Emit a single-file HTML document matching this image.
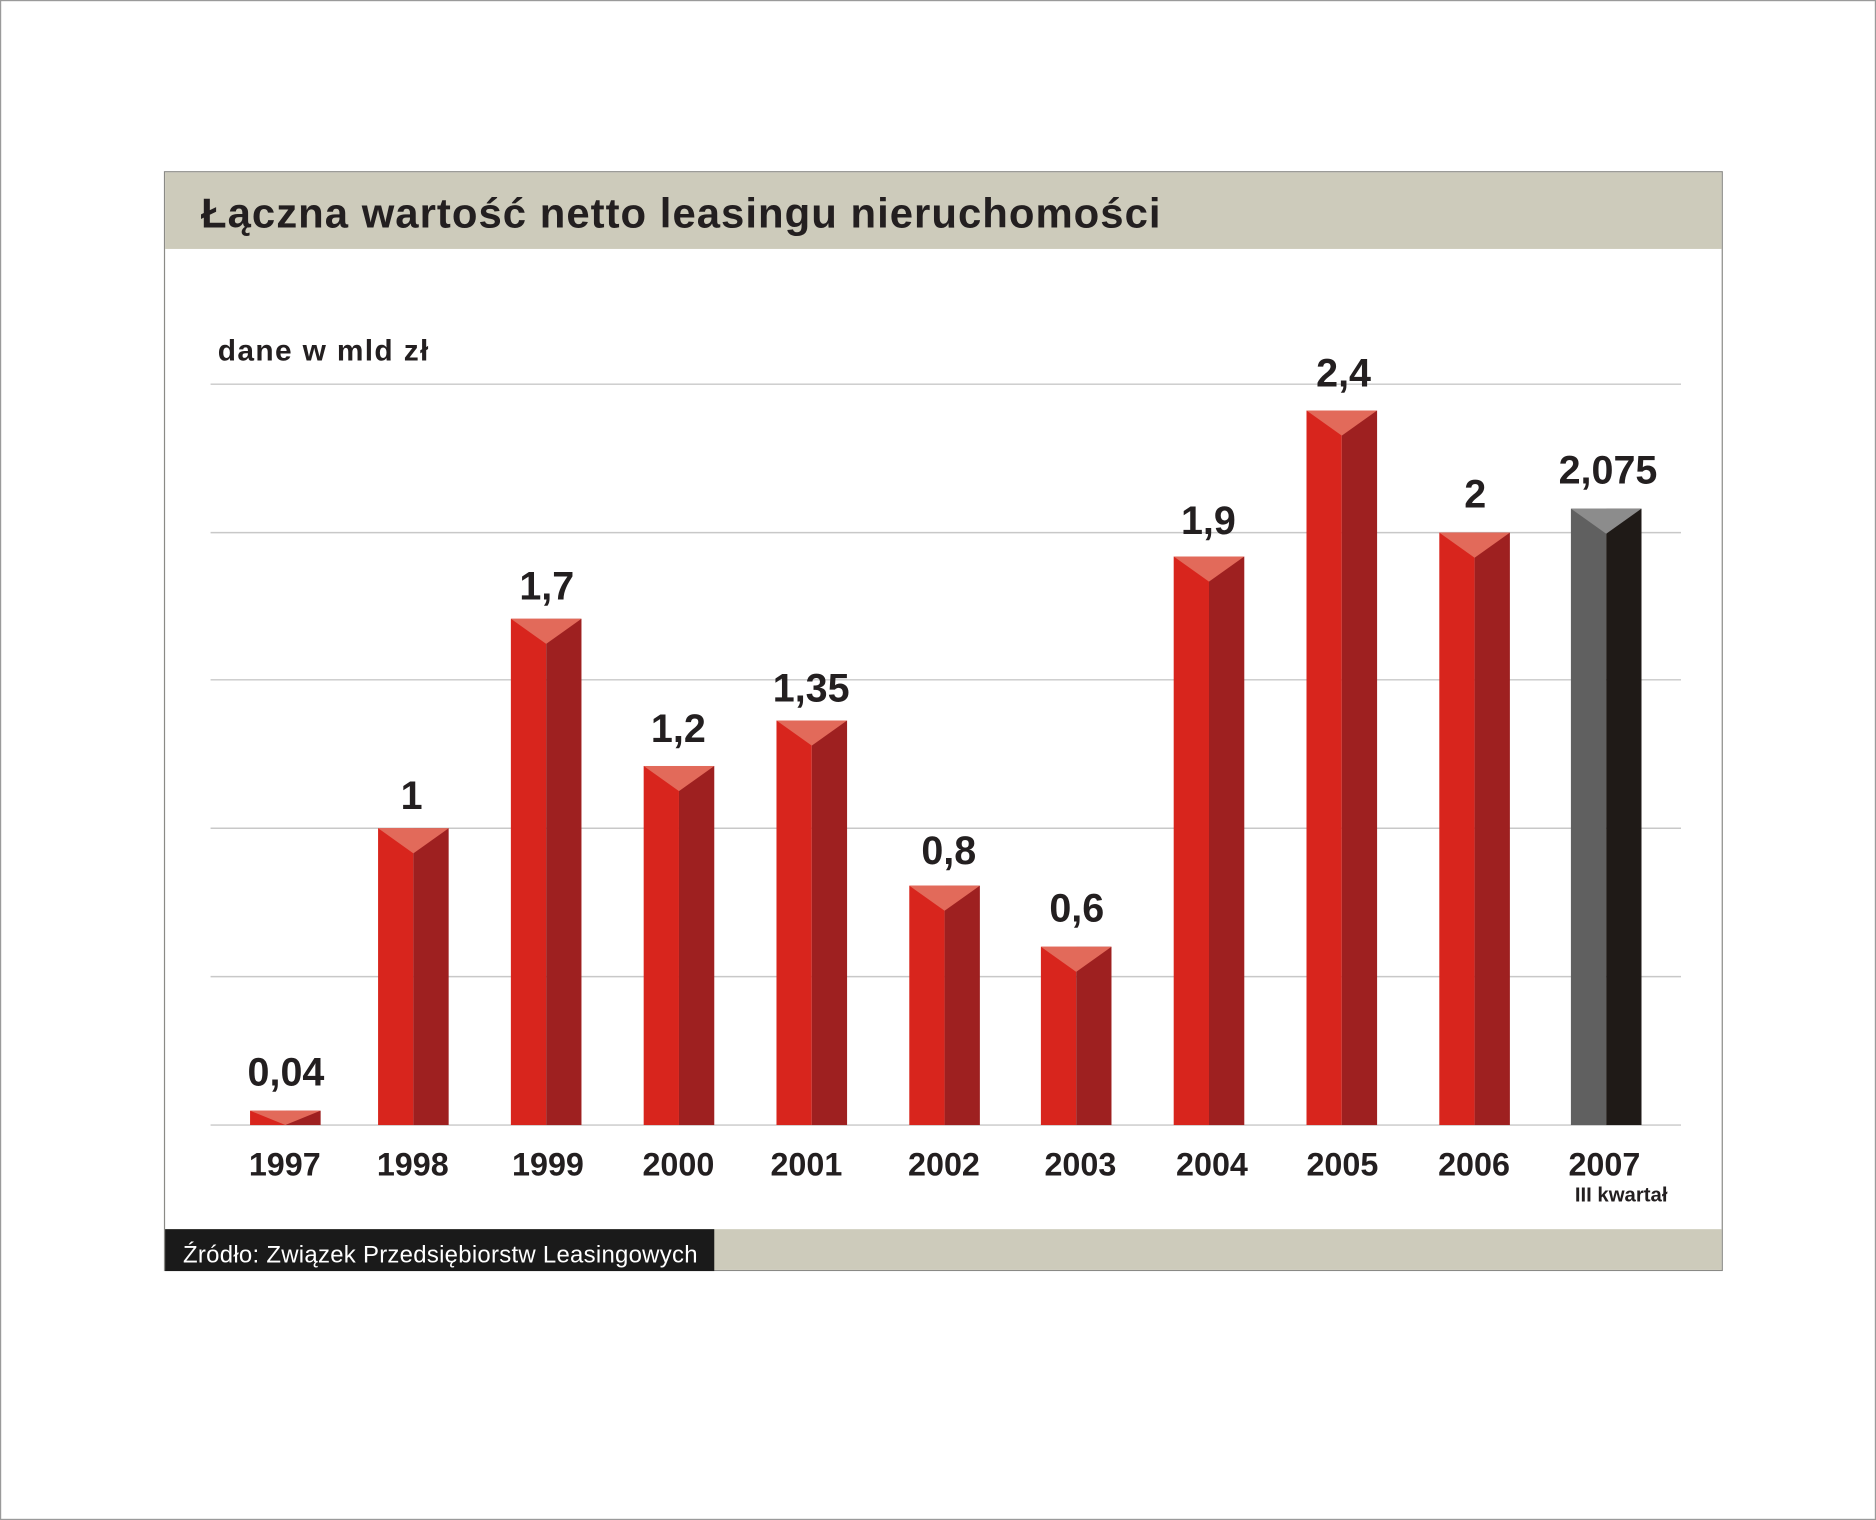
<!DOCTYPE html>
<html><head><meta charset="utf-8"><style>html,body{margin:0;padding:0;background:#fff}svg{display:block}</style></head>
<body>
<svg width="1876" height="1520" viewBox="0 0 1568 1270" preserveAspectRatio="none" xmlns="http://www.w3.org/2000/svg" font-family="'Liberation Sans', 'DejaVu Sans', sans-serif">
<rect x="0.5" y="0.5" width="1567" height="1269" fill="#fff" stroke="#9a9a9a" stroke-width="1"/>
<rect x="137.5" y="143.5" width="1302" height="918" fill="#fff" stroke="#8a8a86" stroke-width="1"/>
<rect x="138" y="144" width="1301" height="64" fill="#cdcbbb"/>
<text x="168" y="190" font-size="35" font-weight="bold" fill="#231f20" textLength="802">Łączna wartość netto leasingu nieruchomości</text>
<text x="182" y="301" font-size="25" font-weight="bold" fill="#231f20" textLength="176">dane w mld zł</text>
<g stroke="#c8c8c8" stroke-width="1.2">
<line x1="176" y1="321" x2="1405" y2="321"/><line x1="176" y1="445" x2="1405" y2="445"/>
<line x1="176" y1="568" x2="1405" y2="568"/><line x1="176" y1="692" x2="1405" y2="692"/>
<line x1="176" y1="816" x2="1405" y2="816"/><line x1="176" y1="940" x2="1405" y2="940"/>
</g>
<g>
<rect x="209" y="928" width="29.5" height="12" fill="#d8251d"/><rect x="238.5" y="928" width="29.5" height="12" fill="#9e2020"/><polygon points="209,928 268,928 238.5,940" fill="#e26a5a"/>
<rect x="316" y="692" width="29.5" height="248" fill="#d8251d"/><rect x="345.5" y="692" width="29.5" height="248" fill="#9e2020"/><polygon points="316,692 375,692 345.5,713" fill="#e26a5a"/>
<rect x="427" y="517" width="29.5" height="423" fill="#d8251d"/><rect x="456.5" y="517" width="29.5" height="423" fill="#9e2020"/><polygon points="427,517 486,517 456.5,538" fill="#e26a5a"/>
<rect x="538" y="640" width="29.5" height="300" fill="#d8251d"/><rect x="567.5" y="640" width="29.5" height="300" fill="#9e2020"/><polygon points="538,640 597,640 567.5,661" fill="#e26a5a"/>
<rect x="649" y="602" width="29.5" height="338" fill="#d8251d"/><rect x="678.5" y="602" width="29.5" height="338" fill="#9e2020"/><polygon points="649,602 708,602 678.5,623" fill="#e26a5a"/>
<rect x="760" y="740" width="29.5" height="200" fill="#d8251d"/><rect x="789.5" y="740" width="29.5" height="200" fill="#9e2020"/><polygon points="760,740 819,740 789.5,761" fill="#e26a5a"/>
<rect x="870" y="791" width="29.5" height="149" fill="#d8251d"/><rect x="899.5" y="791" width="29.5" height="149" fill="#9e2020"/><polygon points="870,791 929,791 899.5,812" fill="#e26a5a"/>
<rect x="981" y="465" width="29.5" height="475" fill="#d8251d"/><rect x="1010.5" y="465" width="29.5" height="475" fill="#9e2020"/><polygon points="981,465 1040,465 1010.5,486" fill="#e26a5a"/>
<rect x="1092" y="343" width="29.5" height="597" fill="#d8251d"/><rect x="1121.5" y="343" width="29.5" height="597" fill="#9e2020"/><polygon points="1092,343 1151,343 1121.5,364" fill="#e26a5a"/>
<rect x="1203" y="445" width="29.5" height="495" fill="#d8251d"/><rect x="1232.5" y="445" width="29.5" height="495" fill="#9e2020"/><polygon points="1203,445 1262,445 1232.5,466" fill="#e26a5a"/>
<rect x="1313" y="425" width="29.5" height="515" fill="#606060"/><rect x="1342.5" y="425" width="29.5" height="515" fill="#1f1a17"/><polygon points="1313,425 1372,425 1342.5,446" fill="#8c8c8c"/>
</g>
<g font-size="33" font-weight="bold" fill="#231f20" text-anchor="middle">
<text x="239" y="907">0,04</text><text x="344" y="676">1</text><text x="457" y="501">1,7</text>
<text x="567" y="620">1,2</text><text x="678" y="586">1,35</text><text x="793" y="722">0,8</text>
<text x="900" y="770">0,6</text><text x="1010" y="446">1,9</text><text x="1123" y="323">2,4</text>
<text x="1233" y="424">2</text><text x="1344" y="404">2,075</text>
</g>
<g font-size="27" font-weight="bold" fill="#231f20" text-anchor="middle">
<text x="238" y="982">1997</text><text x="345" y="982">1998</text><text x="458" y="982">1999</text>
<text x="567" y="982">2000</text><text x="674" y="982">2001</text><text x="789" y="982">2002</text>
<text x="903" y="982">2003</text><text x="1013" y="982">2004</text><text x="1122" y="982">2005</text>
<text x="1232" y="982">2006</text><text x="1341" y="982">2007</text>
</g>
<text x="1355" y="1004" font-size="17" font-weight="bold" fill="#231f20" text-anchor="middle">III kwartał</text>
<rect x="138" y="1027" width="1301" height="34" fill="#cdcbbb"/>
<rect x="138" y="1027" width="459" height="35" fill="#1a1a1a"/>
<text x="153" y="1055" font-size="20" fill="#fff" textLength="430">Źródło: Związek Przedsiębiorstw Leasingowych</text>
</svg>
</body></html>
